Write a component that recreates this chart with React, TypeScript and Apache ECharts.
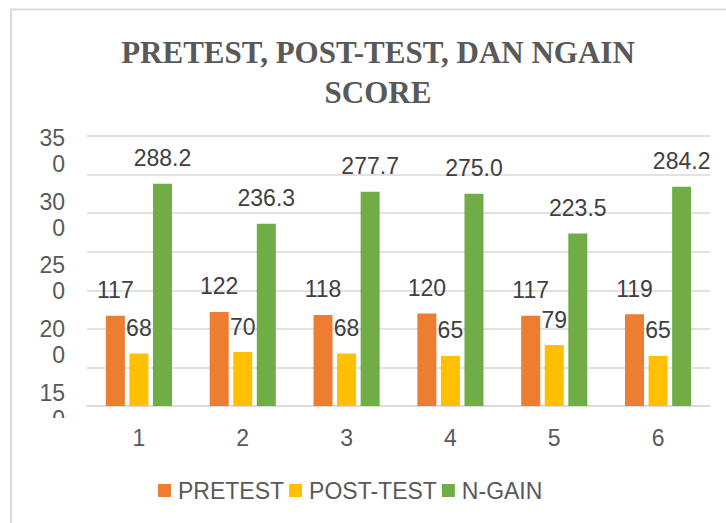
import React, { useEffect, useRef } from "react";
import * as echarts from "echarts";

const categories = ["1", "2", "3", "4", "5", "6"];
const pretest = [117, 122, 118, 120, 117, 119];
const posttest = [68, 70, 68, 65, 79, 65];
const ngain = [288.2, 236.3, 277.7, 275.0, 223.5, 284.2];
// wrapped y tick labels as they appear in the reference (150..350)
const yTickLabels = ["15\n0", "20\n0", "25\n0", "30\n0", "35\n0"];
const seriesNames = ["PRETEST", "POST-TEST", "N-GAIN"];
const colors = ["#ED7D31", "#FFC000", "#70AD47"];

export default function App() {
  const ref = useRef<HTMLDivElement>(null);
  useEffect(() => {
    document.body.style.margin = "0";
    const chart = echarts.init(ref.current!, null, { renderer: "svg" });
    const labelStyle = {
      show: true,
      position: "top" as const,
      distance: 14,
      fontFamily: "Liberation Sans",
      fontSize: 23,
      color: "#404040",
    };
    const mk = (name: string, data: number[], color: string, decimals: number) => ({
      name,
      type: "bar",
      data,
      barWidth: 19,
      barGap: "24%",
      yAxisIndex: 0,
      itemStyle: { color },
      label: {
        ...labelStyle,
        formatter: (p: any) => Number(p.value).toFixed(decimals),
      },
    });
    chart.setOption({
      animation: false,
      backgroundColor: "#ffffff",
      title: {
        text: "PRETEST, POST-TEST, DAN NGAIN\nSCORE",
        left: 373,
        top: 27,
        textAlign: "center",
        textStyle: {
          fontFamily: "Liberation Serif",
          fontWeight: "bold",
          fontSize: 31,
          lineHeight: 40,
          color: "#595959",
        },
      },
      legend: {
        data: seriesNames,
        left: 158,
        top: 479,
        padding: 0,
        icon: "rect",
        itemWidth: 13,
        itemHeight: 13,
        itemGap: 5,
        textStyle: {
          fontFamily: "Liberation Sans",
          fontSize: 23,
          color: "#595959",
          padding: [0, 0, 0, 2],
        },
      },
      grid: { left: 87, right: 16, top: 136, bottom: 117 },
      xAxis: {
        type: "category",
        data: categories,
        axisLine: { lineStyle: { color: "#d9d9d9", width: 1.5 } },
        axisTick: { show: false },
        axisLabel: {
          fontFamily: "Liberation Sans",
          fontSize: 23,
          color: "#595959",
          margin: 20,
        },
      },
      yAxis: [
        {
          type: "value",
          min: 0,
          max: 350,
          interval: 50,
          axisLabel: { show: false },
          axisLine: { show: false },
          axisTick: { show: false },
          splitLine: { lineStyle: { color: "#d9d9d9", width: 1.5 } },
        },
        {
          type: "value",
          position: "left",
          min: 0,
          max: 4.235,
          interval: 1,
          axisLine: { show: false },
          axisTick: { show: false },
          splitLine: { show: false },
          axisLabel: {
            fontFamily: "Liberation Sans",
            fontSize: 23,
            lineHeight: 26,
            color: "#595959",
            margin: 22,
            align: "right",
            showMaxLabel: false,
            formatter: (v: number) =>
              Number.isInteger(v) && yTickLabels[v] !== undefined ? yTickLabels[v] : "",
          },
        },
      ],
      series: [
        mk(seriesNames[0], pretest, colors[0], 0),
        mk(seriesNames[1], posttest, colors[1], 0),
        mk(seriesNames[2], ngain, colors[2], 1),
      ],
      graphic: [
        {
          type: "rect",
          z: 100,
          silent: true,
          shape: { x: 14, y: 418, width: 70, height: 14 },
          style: { fill: "#ffffff" },
        },
        {
          type: "rect",
          z: 100,
          silent: true,
          shape: { x: 11, y: 9.5, width: 800, height: 600 },
          style: { fill: "none", stroke: "#d9d9d9", lineWidth: 2 },
        },
      ],
    });
    return () => chart.dispose();
  }, []);
  return <div ref={ref} style={{ width: 726, height: 523 }} />;
}
